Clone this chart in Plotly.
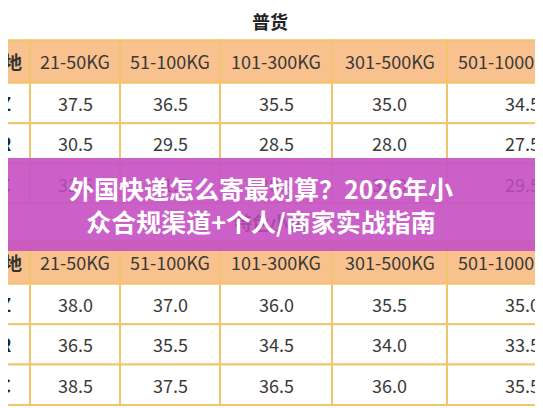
import plotly.graph_objects as go

# table data
sections = ["普货", "特色小包"]
weight_bands = ["21-50KG", "51-100KG", "101-300KG", "301-500KG", "501-1000KG"]
regions = ["区域Z", "区域R", "区域C"]
prices_general = [
    [37.5, 36.5, 35.5, 35.0, 34.5],
    [30.5, 29.5, 28.5, 28.0, 27.5],
    [32.5, 31.5, 30.5, 30.0, 29.5],
]
prices_special = [
    [38.0, 37.0, 36.0, 35.5, 35.0],
    [36.5, 35.5, 34.5, 34.0, 33.5],
    [38.5, 37.5, 36.5, 36.0, 35.5],
]
banner_title = "外国快递怎么寄最划算？2026年小<br>众合规渠道+个人/商家实战指南"

# layout geometry (pixel-like coords)
col_edges = [-60, 30, 120, 220, 332, 447, 560]
row_h = 40.4
sec_top = [2, 203]
banner_y = (158, 251)

border = "#F1C56E"
header_fill = "#F9C18E"
txt = "#3a3a3a"
faint = "rgba(110,30,110,0.35)"
font = "Noto Sans CJK SC"

fig = go.Figure()
shapes = []
annos = []


def cell(x0, x1, y0, y1, fill):
    shapes.append(dict(type="rect", x0=x0, x1=x1, y0=y0, y1=y1, fillcolor=fill,
                       line=dict(color=border, width=2), layer="below"))


def label(x, y, text, size=18, color=txt, bold=False, anchor="center"):
    if banner_y[0] - 8 < y < banner_y[1] + 8:
        color = faint
    if bold:
        text = "<b>" + text + "</b>"
    annos.append(dict(x=x, y=y, text=text, showarrow=False, xanchor=anchor,
                      font=dict(family=font, size=size, color=color)))


for s, (name, table) in enumerate(zip(sections, [prices_general, prices_special])):
    top = sec_top[s]
    # title row
    cell(col_edges[0], col_edges[-1], top, top + row_h - 2, "white")
    label(270, top + 19, name, size=18, color="#222", bold=True)
    # header row
    y0 = top + row_h - 2
    for c in range(len(col_edges) - 1):
        cell(col_edges[c], col_edges[c + 1], y0, y0 + row_h + 2, header_fill)
    label(24, y0 + 21, "目的地", color="#333", bold=True, anchor="right")
    for c, band in enumerate(weight_bands):
        if c == len(weight_bands) - 1:
            label(456, y0 + 21, band, anchor="left")
        else:
            label((col_edges[c + 1] + col_edges[c + 2]) / 2, y0 + 21, band)
    # value rows
    for r, reg in enumerate(regions):
        ry = y0 + row_h + 2 + r * row_h
        for c in range(len(col_edges) - 1):
            cell(col_edges[c], col_edges[c + 1], ry, ry + row_h, "white")
        label(13, ry + 20, reg, size=18, color="#222", bold=True, anchor="right")
        for c, v in enumerate(table[r]):
            if c == len(weight_bands) - 1:
                label(542, ry + 20, f"{v:.1f}", anchor="right")
            else:
                label((col_edges[c + 1] + col_edges[c + 2]) / 2, ry + 20, f"{v:.1f}")

# banner overlay
shapes.append(dict(type="rect", x0=-10, x1=570, y0=banner_y[0], y1=banner_y[1],
                   fillcolor="rgba(198,84,196,0.93)", line=dict(width=0), layer="above"))
annos.append(dict(x=261, y=204, text="<b>" + banner_title + "</b>", showarrow=False,
                  font=dict(family=font, size=25, color="white"), align="center"))

fig.add_trace(go.Scatter(x=[8, 551], y=[8, 416], mode="markers",
                         marker=dict(opacity=0), hoverinfo="skip", showlegend=False))
# the page sits 8px in from the corner, so shift the view by 8px
fig.update_layout(
    width=543, height=408, margin=dict(l=0, r=0, t=0, b=0),
    paper_bgcolor="white", plot_bgcolor="white",
    xaxis=dict(range=[8, 551], visible=False, fixedrange=True),
    yaxis=dict(range=[416, 8], visible=False, fixedrange=True),
    shapes=shapes, annotations=annos,
)
fig.write_html("out.html")
